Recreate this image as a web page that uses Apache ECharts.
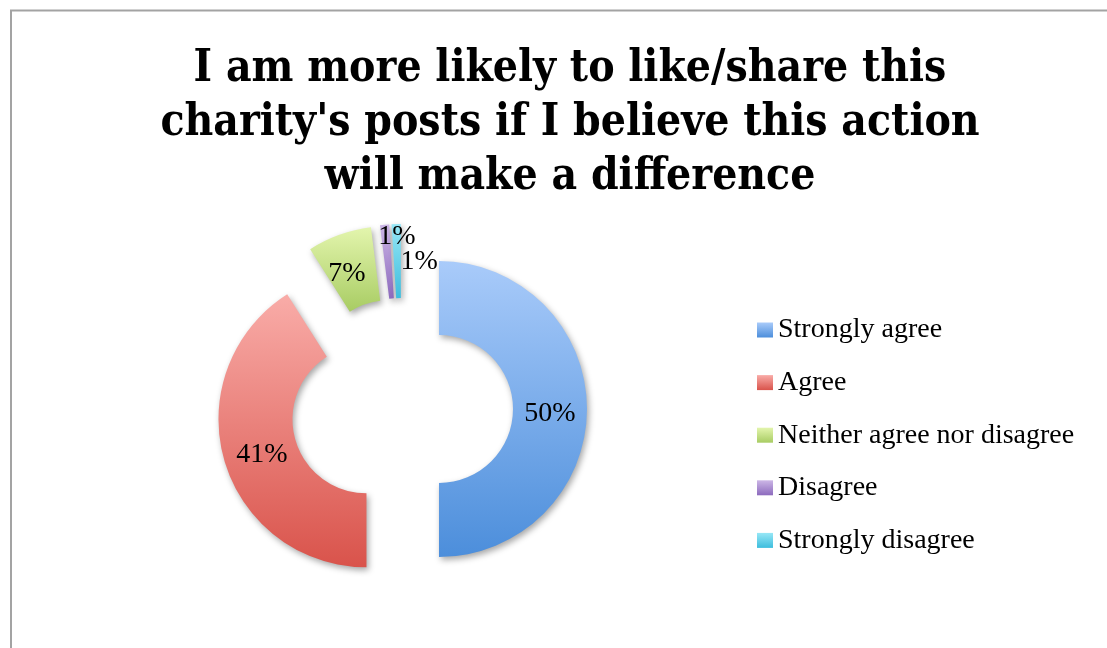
<!DOCTYPE html>
<html>
<head>
<meta charset="utf-8">
<script src="https://cdn.jsdelivr.net/npm/echarts@6/dist/echarts.min.js"></script>
<style>
  html, body { margin: 0; padding: 0; background: #ffffff; }
  #chart { width: 1107px; height: 648px; }
</style>
</head>
<body>
<div id="chart"></div>
<script>
// Survey answers and their shares (percent)
const categories = ['Strongly agree', 'Agree', 'Neither agree nor disagree', 'Disagree', 'Strongly disagree'];
const shares = [50, 41, 7, 1, 1];

// Gradient stops per slice: light top, darker bottom
const topColors = ['#a9cbfa', '#f9aca8', '#e3f5ad', '#ccb6e6', '#97e7f6'];
const bottomColors = ['#4c8edb', '#d9534b', '#a8cc63', '#8c6abd', '#3dbddd'];

// Small slices get their labels nudged apart so they do not collide
const labelNudges = [[-3, 5], [5, 4], [-4, 7], [9, -22], [22, 4]];

const chart = echarts.init(document.getElementById('chart'), null, { renderer: 'canvas' });

const pieData = categories.map((name, i) => ({
  name: name,
  value: shares[i],
  selected: true,
  itemStyle: {
    color: new echarts.graphic.LinearGradient(0, 0, 0, 1, [
      { offset: 0, color: topColors[i] },
      { offset: 1, color: bottomColors[i] }
    ])
  }
}));

chart.setOption({
  backgroundColor: '#ffffff',
  animation: false,
  title: {
    text: "I am more likely to like/share this\ncharity's posts if I believe this action\nwill make a difference",
    left: 565,
    top: 38,
    textAlign: 'center',
    textStyle: {
      fontFamily: "'DejaVu Serif Condensed', 'DejaVu Serif'",
      fontWeight: 'bold',
      fontSize: 44,
      lineHeight: 54,
      color: '#000000'
    }
  },
  legend: {
    orient: 'vertical',
    left: 752,
    top: 311,
    itemWidth: 16,
    itemHeight: 15,
    itemGap: 24.6,
    icon: 'rect',
    selectedMode: false,
    data: categories,
    textStyle: {
      fontFamily: 'Liberation Serif',
      fontSize: 28,
      lineHeight: 28,
      color: '#000000'
    }
  },
  graphic: [{
    type: 'rect',
    silent: true,
    shape: { x: 11, y: 10.5, width: 1200, height: 800 },
    style: { fill: 'none', stroke: '#a3a3a3', lineWidth: 2 }
  }],
  series: [{
    type: 'pie',
    center: [402, 409],
    radius: [74, 148],
    startAngle: 90,
    clockwise: true,
    selectedMode: 'multiple',
    selectedOffset: 37,
    avoidLabelOverlap: false,
    itemStyle: {
      shadowBlur: 6,
      shadowOffsetX: 2,
      shadowOffsetY: 3,
      shadowColor: 'rgba(0,0,0,0.35)'
    },
    label: {
      show: true,
      position: 'inside',
      formatter: '{c}%',
      fontFamily: 'Liberation Serif',
      fontSize: 28,
      color: '#000000',
      textBorderWidth: 0
    },
    labelLayout: function (params) {
      const n = labelNudges[params.dataIndex];
      return { dx: n[0], dy: n[1], hideOverlap: false };
    },
    labelLine: { show: false },
    emphasis: { disabled: true },
    data: pieData
  }]
});
</script>
</body>
</html>
